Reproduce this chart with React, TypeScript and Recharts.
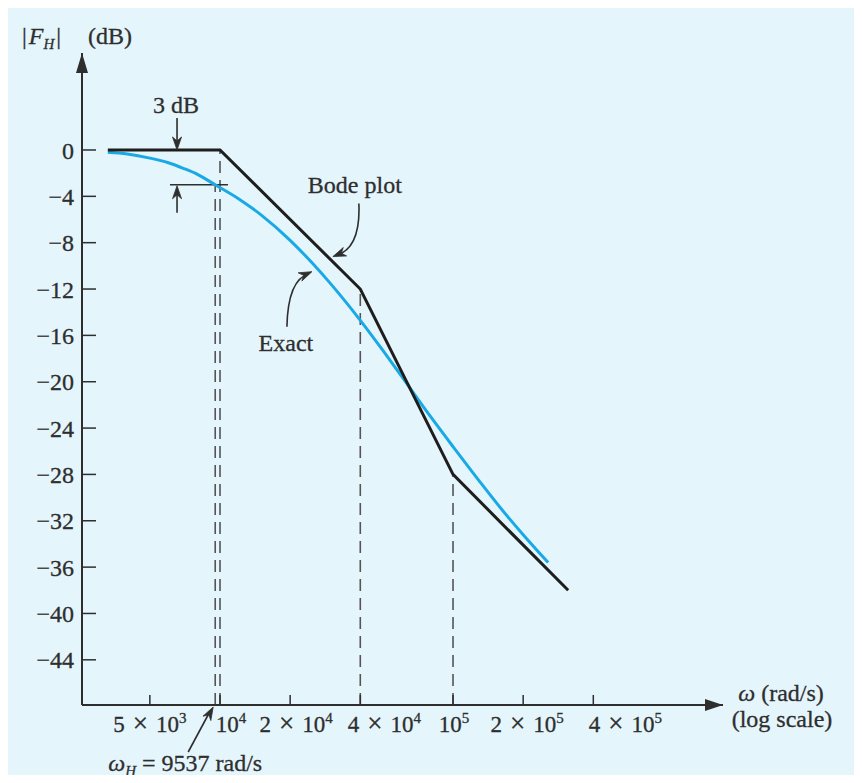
import { LineChart, Line, XAxis, YAxis, ReferenceLine, ReferenceDot } from "recharts";

// Bode asymptotes and exact response
const bodeFreq = [3300, 10000, 40000, 100000, 312000];
const bodeDb = [0, 0, -12, -28, -38];

const exactFreq = [
  3300, 4000, 5000, 6000, 7000, 8000, 9537, 12000, 15000, 20000, 25000, 30000,
  40000, 50000, 60000, 80000, 100000, 130000, 160000, 200000, 256000,
];
const exactDb = [
  -0.2, -0.35, -0.7, -1.1, -1.6, -2.1, -3.0, -4.2, -5.6, -7.8, -9.8, -11.6,
  -14.7, -17.3, -19.5, -23.0, -25.6, -28.6, -30.9, -33.2, -35.6,
];

const xTicks = [5000, 10000, 20000, 40000, 100000, 200000, 400000];
const xTickMantissa = ["5", "", "2", "4", "", "2", "4"];
const xTickPower = ["3", "4", "4", "4", "5", "5", "5"];
const yTicks = [0, -4, -8, -12, -16, -20, -24, -28, -32, -36, -40, -44];

// guide lines dropped to the axis
const guideFreq = [9537, 10000, 40000, 100000];
const guideTop = [-3, 0, -12, -28];

const omegaH = 9537;
const threeDbFreq = 6540;
const X_MIN = 2557;
const X_MAX = 1441000;
const Y_MIN = -47.9;
const Y_MAX = 8.37;

const INK = "#2e2e2e";
const SERIF = "'Liberation Serif', 'Times New Roman', serif";
const FS = 24;
const txt = { fontFamily: SERIF, fill: INK, stroke: INK, strokeWidth: 0.3 };

const bodeData = bodeFreq.map((w, i) => ({ w, db: bodeDb[i] }));
const exactData = exactFreq.map((w, i) => ({ w, db: exactDb[i] }));

// small filled barb at (tx,ty), pointing away from (fx,fy)
function barb(tx: number, ty: number, fx: number, fy: number) {
  const dx = tx - fx;
  const dy = ty - fy;
  const len = Math.hypot(dx, dy) || 1;
  const ux = dx / len;
  const uy = dy / len;
  const nx = -uy;
  const ny = ux;
  const p = (a: number, b: number) => `${tx - ux * a + nx * b},${ty - uy * a + ny * b}`;
  return <path d={`M${tx},${ty} L${p(13, 4.5)} L${p(9, 0)} L${p(13, -4.5)} Z`} fill={INK} stroke={INK} strokeWidth={0.8} />;
}

const XTick = (props: any) => {
  const { x, y, payload } = props;
  const i = xTicks.indexOf(payload.value);
  const nudge = [0, 11, 6, 24, 1, 4, 32][i] ?? 0;
  const m = xTickMantissa[i];
  return (
    <text x={x + nudge} y={y + 27} textAnchor="middle" fontSize={23} {...txt}>
      {m ? <tspan>{m}</tspan> : null}
      {m ? <tspan dx={8} fontSize={27}>×</tspan> : null}
      <tspan dx={m ? 8 : 0}>10</tspan>
      <tspan dy={-9} fontSize={15}>{xTickPower[i]}</tspan>
    </text>
  );
};

export default function App() {
  return (
    <div style={{ margin: -8, width: 862, height: 783, background: "#fff", position: "relative" }}>
      <div style={{ position: "absolute", left: 8, top: 6, right: 0, bottom: 0, background: "#e5f5fc" }} />
      <div style={{ position: "absolute", left: 0, top: 0 }}>
        <LineChart width={862} height={783} margin={{ top: 53, right: 139, bottom: 48, left: 42 }}>
          <XAxis
            dataKey="w"
            type="number"
            scale="log"
            domain={[X_MIN, X_MAX]}
            allowDataOverflow
            ticks={xTicks}
            interval={0}
            height={30}
            tickSize={-10}
            tickMargin={10}
            axisLine={{ stroke: INK, strokeWidth: 2 }}
            tickLine={{ stroke: INK, strokeWidth: 1.5 }}
            tick={<XTick />}
          />
          <YAxis
            type="number"
            domain={[Y_MIN, Y_MAX]}
            allowDataOverflow
            ticks={yTicks}
            interval={0}
            width={40}
            tickSize={-14}
            tickMargin={22}
            axisLine={{ stroke: INK, strokeWidth: 2 }}
            tickLine={{ stroke: INK, strokeWidth: 1.5 }}
            tick={{ ...txt, fontSize: FS }}
            tickFormatter={(v: number) => (v < 0 ? `\u2212${-v}` : `${v}`)}
          />

          {guideFreq.map((f, i) => (
            <ReferenceLine
              key={f}
              segment={[{ x: f, y: Y_MIN }, { x: f, y: guideTop[i] }]}
              stroke="#555"
              strokeWidth={1.6}
              strokeDasharray="12 7"
              ifOverflow="visible"
            />
          ))}
          <ReferenceLine
            segment={[{ x: 6100, y: -3 }, { x: 10820, y: -3 }]}
            stroke={INK}
            strokeWidth={1.6}
            ifOverflow="visible"
          />

          <Line data={exactData} dataKey="db" type="monotone" stroke="#19a9e5" strokeWidth={3} dot={false} isAnimationActive={false} />
          <Line data={bodeData} dataKey="db" type="linear" stroke="#1e1e1e" strokeWidth={3} dot={false} isAnimationActive={false} />

          {/* axis arrowheads and titles */}
          <ReferenceDot
            x={X_MIN}
            y={Y_MAX}
            ifOverflow="visible"
            shape={({ cx, cy }: any) => (
              <g>
                <path d={`M${cx},${cy} L${cx - 6},${cy + 20} L${cx + 6},${cy + 20} Z`} fill={INK} />
                <text x={cx - 60} y={cy - 9} fontSize={FS} {...txt}>
                  |<tspan fontStyle="italic" dx={2}>F</tspan>
                  <tspan fontStyle="italic" fontSize={15} dy={5}>H</tspan>
                  <tspan dy={-5} dx={2}>|</tspan>
                </text>
                <text x={cx + 6} y={cy - 9} fontSize={FS} {...txt}>(dB)</text>
              </g>
            )}
          />
          <ReferenceDot
            x={X_MAX}
            y={Y_MIN}
            ifOverflow="visible"
            shape={({ cx, cy }: any) => (
              <g>
                <path d={`M${cx},${cy} L${cx - 18},${cy - 6} L${cx - 18},${cy + 6} Z`} fill={INK} />
                <text x={cx + 58} y={cy - 4} fontSize={FS} textAnchor="middle" {...txt}>
                  <tspan fontStyle="italic">ω</tspan> (rad/s)
                </text>
                <text x={cx + 59} y={cy + 22} fontSize={FS} textAnchor="middle" {...txt}>(log scale)</text>
              </g>
            )}
          />

          {/* 3 dB marker */}
          <ReferenceDot
            x={threeDbFreq}
            y={0}
            ifOverflow="visible"
            shape={({ cx, cy }: any) => (
              <g>
                <line x1={cx} y1={cy - 32} x2={cx} y2={cy - 4} stroke={INK} strokeWidth={1.6} />
                {barb(cx, cy, cx, cy - 30)}
                <text x={cx - 1} y={cy - 37} fontSize={FS} textAnchor="middle" {...txt}>3 dB</text>
              </g>
            )}
          />
          <ReferenceDot
            x={threeDbFreq}
            y={-3}
            ifOverflow="visible"
            shape={({ cx, cy }: any) => (
              <g>
                <line x1={cx} y1={cy + 28} x2={cx} y2={cy + 4} stroke={INK} strokeWidth={1.6} />
                {barb(cx, cy + 1, cx, cy + 28)}
              </g>
            )}
          />

          {/* Bode plot label */}
          <ReferenceDot
            x={30500}
            y={-9.2}
            ifOverflow="visible"
            shape={({ cx, cy }: any) => (
              <g>
                <path d={`M${cx + 26},${cy - 53} Q${cx + 28},${cy - 8} ${cx + 3},${cy - 1}`} fill="none" stroke={INK} strokeWidth={1.6} />
                {barb(cx, cy, cx + 20, cy - 8)}
                <text x={cx + 22} y={cy - 64} fontSize={FS} textAnchor="middle" {...txt}>Bode plot</text>
              </g>
            )}
          />

          {/* Exact label */}
          <ReferenceDot
            x={24800}
            y={-10.5}
            ifOverflow="visible"
            shape={({ cx, cy }: any) => (
              <g>
                <path d={`M${cx - 25},${cy + 55} Q${cx - 24},${cy + 8} ${cx - 3},${cy + 2}`} fill="none" stroke={INK} strokeWidth={1.6} />
                {barb(cx, cy, cx - 18, cy + 8)}
                <text x={cx - 26} y={cy + 79} fontSize={FS} textAnchor="middle" {...txt}>Exact</text>
              </g>
            )}
          />

          {/* omega_H callout */}
          <ReferenceDot
            x={omegaH}
            y={Y_MIN}
            ifOverflow="visible"
            shape={({ cx, cy }: any) => (
              <g>
                <line x1={cx - 27} y1={cy + 47} x2={cx - 5} y2={cy + 6} stroke={INK} strokeWidth={1.6} />
                {barb(cx - 2, cy + 2, cx - 27, cy + 47)}
                <text x={cx - 107} y={cy + 66} fontSize={FS} {...txt}>
                  <tspan fontStyle="italic">ω</tspan>
                  <tspan fontStyle="italic" fontSize={15} dy={5}>H</tspan>
                  <tspan dy={-5} dx={6}>=</tspan>
                  <tspan dx={6}>9537 rad/s</tspan>
                </text>
              </g>
            )}
          />
        </LineChart>
      </div>
    </div>
  );
}
